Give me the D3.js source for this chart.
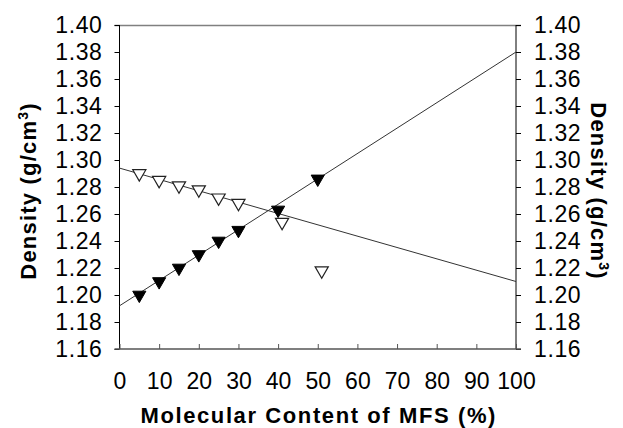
<!DOCTYPE html>
<html lang="en">
<head>
  <meta charset="UTF-8">
  <title>Density</title>
  <script src="https://cdn.jsdelivr.net/npm/d3@7/dist/d3.min.js"></script>
  <style>
    body { margin: 0; background: #fff; }
    text { font-family: "Liberation Sans", Arial, sans-serif; }
  </style>
</head>
<body>
  <div id="wrapper"></div>
  <script>
    // values
    const filledX = [5, 10, 15, 20, 25, 30, 40, 50]
    const filledY = [1.200, 1.210, 1.220, 1.230, 1.240, 1.248, 1.263, 1.286]
    const openX = [5, 10, 15, 20, 25, 30, 41, 51]
    const openY = [1.290, 1.285, 1.281, 1.278, 1.272, 1.268, 1.254, 1.218]
    const trendX = [0, 100]
    const filledTrend = [1.192, 1.380]
    const openTrend = [1.294, 1.210]
    const xTicks = [0, 10, 20, 30, 40, 50, 60, 70, 80, 90, 100]
    const yTicks = [1.16, 1.18, 1.20, 1.22, 1.24, 1.26, 1.28, 1.30, 1.32, 1.34, 1.36, 1.38, 1.40]

    const dimensions = {
      width: 623,
      height: 428,
      margin: { top: 25, right: 107, bottom: 79, left: 119.5 }
    }
    dimensions.boundeWidth = dimensions.width - dimensions.margin.left - dimensions.margin.right
    dimensions.boundeHeight = dimensions.height - dimensions.margin.top - dimensions.margin.bottom

    const svg = d3.select("#wrapper").append("svg")
      .attr("width", dimensions.width)
      .attr("height", dimensions.height)
    const bounds = svg.append("g")
      .attr("transform", `translate(${dimensions.margin.left},${dimensions.margin.top})`)

    const xScale = d3.scaleLinear().domain([0, 100]).range([0, dimensions.boundeWidth])
    const yScale = d3.scaleLinear().domain([1.16, 1.40]).range([dimensions.boundeHeight, 0])

    // top border
    bounds.append("line")
      .attr("x1", -5).attr("x2", dimensions.boundeWidth + 5)
      .attr("y1", 0.5).attr("y2", 0.5)
      .attr("stroke", "#808080").attr("stroke-width", 1.5)

    const styleAxis = (g, size, spacing) => {
      g.select(".domain").remove()
      g.selectAll("line").attr("stroke", "#000")
      g.selectAll("text").attr("font-size", size).attr("fill", "#000")
        .attr("letter-spacing", spacing)
        .attr("font-family", '"Liberation Sans", Arial, sans-serif')
    }

    const yLeft = bounds.append("g")
      .call(d3.axisLeft(yScale).tickValues(yTicks).tickFormat(d3.format(".2f")).tickSize(5).tickPadding(12))
      .call(styleAxis, 23, 0.6)
    yLeft.append("line").attr("y1", 0).attr("y2", dimensions.boundeHeight).attr("stroke", "#000")

    const yRight = bounds.append("g")
      .attr("transform", `translate(${dimensions.boundeWidth},0)`)
      .call(d3.axisRight(yScale).tickValues(yTicks).tickFormat(d3.format(".2f")).tickSize(5).tickPadding(13))
      .call(styleAxis, 23, 0.6)
    yRight.append("line").attr("y1", 0).attr("y2", dimensions.boundeHeight).attr("stroke", "#000")

    const xAxis = bounds.append("g")
      .attr("transform", `translate(0,${dimensions.boundeHeight})`)
      .call(d3.axisBottom(xScale).tickValues(xTicks).tickSizeInner(-5).tickSizeOuter(0).tickPadding(24))
      .call(styleAxis, 23, 0)
    xAxis.append("line").attr("x1", -5).attr("x2", dimensions.boundeWidth + 5)
      .attr("stroke", "#555").attr("stroke-width", 1.5)
    xAxis.selectAll("line").attr("stroke", "#555")

    // trend lines
    const lineGen = d3.line().x(d => xScale(d[0])).y(d => yScale(d[1]))
    bounds.append("path")
      .attr("d", lineGen(trendX.map((x, i) => [x, filledTrend[i]])))
      .attr("fill", "none").attr("stroke", "#333").attr("stroke-width", 1)
    bounds.append("path")
      .attr("d", lineGen(trendX.map((x, i) => [x, openTrend[i]])))
      .attr("fill", "none").attr("stroke", "#333").attr("stroke-width", 1)

    const tri = d3.symbol(d3.symbolTriangle, 75)
    bounds.selectAll(".open").data(openX.map((x, i) => [x, openY[i]])).join("path")
      .attr("class", "open")
      .attr("d", tri)
      .attr("transform", d => `translate(${xScale(d[0])},${yScale(d[1])}) rotate(180)`)
      .attr("fill", "#fff").attr("stroke", "#222").attr("stroke-width", 1.2)
    bounds.selectAll(".filled").data(filledX.map((x, i) => [x, filledY[i]])).join("path")
      .attr("class", "filled")
      .attr("d", tri)
      .attr("transform", d => `translate(${xScale(d[0])},${yScale(d[1])}) rotate(180)`)
      .attr("fill", "#000").attr("stroke", "#000").attr("stroke-width", 1)

    // titles
    svg.append("text")
      .attr("x", dimensions.margin.left + dimensions.boundeWidth / 2 + 1)
      .attr("y", 423)
      .attr("text-anchor", "middle")
      .attr("font-size", 22).attr("font-weight", "bold")
      .attr("letter-spacing", 1.6)
      .text("Molecular Content of MFS (%)")

    const yTitle = (x, rot) => {
      const t = svg.append("text")
        .attr("transform", `translate(${x},191) rotate(${rot})`)
        .attr("text-anchor", "middle")
        .attr("font-size", 22).attr("font-weight", "bold")
        .attr("letter-spacing", 1.2)
      t.append("tspan").text("Density (g/cm")
      t.append("tspan").attr("font-size", 14).attr("dy", -8).text("3")
      t.append("tspan").attr("dy", 8).text(")")
    }
    yTitle(36, -90)
    yTitle(591, 90)
  </script>
</body>
</html>
